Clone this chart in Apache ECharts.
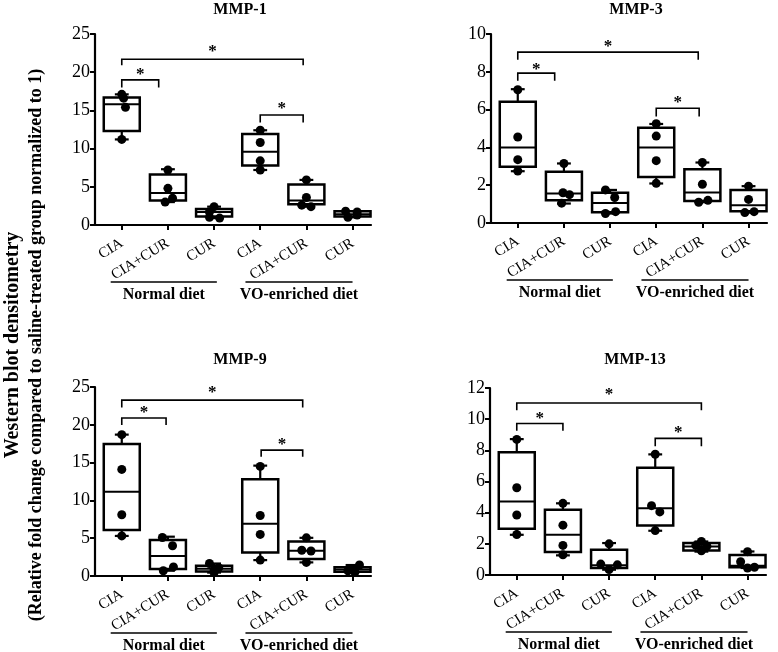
<!DOCTYPE html>
<html>
<head>
<meta charset="utf-8">
<script src="https://cdn.jsdelivr.net/npm/echarts@6/dist/echarts.min.js"></script>
<style>html,body{margin:0;padding:0;background:#fff}#c{width:778px;height:652px}</style>
</head>
<body>
<div id="c"></div>
<script>
// ---------- data ----------
const categories = ['CIA', 'CIA+CUR', 'CUR', 'CIA', 'CIA+CUR', 'CUR'];
const groupLabels = ['Normal diet', 'VO-enriched diet'];
const titles = ['MMP-1', 'MMP-3', 'MMP-9', 'MMP-13'];
const yMax = [25, 10, 25, 12];
const yStep = [5, 2, 5, 2];

// box stats per group: [min, Q1, median, Q3, max]
const mmp1Box = [[11.2,12.3,15.8,16.7,17.1],[3.0,3.2,4.2,6.6,7.3],[0.9,1.1,1.7,2.1,2.4],[7.2,7.8,9.6,11.9,12.4],[2.4,2.7,3.2,5.3,5.9],[1.0,1.1,1.4,1.8,1.8]];
const mmp3Box = [[2.74,2.97,4.0,6.42,7.08],[1.03,1.2,1.56,2.71,3.15],[0.5,0.57,1.06,1.6,1.75],[2.09,2.44,4.0,5.04,5.24],[1.1,1.17,1.61,2.85,3.2],[0.55,0.62,0.94,1.74,1.95]];
const mmp9Box = [[5.3,6.09,11.15,17.45,18.7],[0.7,0.94,2.65,4.77,5.2],[0.45,0.6,0.95,1.35,1.65],[2.1,3.1,6.9,12.8,14.6],[1.8,2.25,3.35,4.55,5.05],[0.5,0.55,0.85,1.15,1.45]];
const mmp13Box = [[2.58,2.96,4.71,7.87,8.72],[1.26,1.47,2.58,4.18,4.6],[0.34,0.45,0.62,1.62,2.05],[2.84,3.18,4.29,6.89,7.74],[1.5,1.58,1.83,2.05,2.15],[0.45,0.49,0.6,1.28,1.51]];

// individual points per group
const mmp1Pts = [[17.1,16.6,15.4,11.2],[7.2,4.8,3.5,3.0],[2.4,1.7,1.0,0.9],[12.4,10.8,8.4,7.2],[5.9,3.6,2.6,2.4],[1.8,1.7,1.3,1.0]];
const mmp3Pts = [[7.05,4.55,3.35,2.75],[3.15,1.6,1.5,1.05],[1.75,1.35,0.6,0.5],[5.25,4.6,3.3,2.1],[3.2,2.05,1.2,1.1],[1.95,1.25,0.6,0.55]];
const mmp9Pts = [[18.7,14.1,8.1,5.3],[5.1,4.0,1.2,0.7],[1.65,1.1,0.8,0.45],[14.5,8.0,5.5,2.1],[5.05,3.4,3.3,1.8],[1.45,1.0,0.7,0.5]];
const mmp13Pts = [[8.7,5.6,3.85,2.6],[4.6,3.2,1.9,1.3],[2.0,0.7,0.65,0.35],[7.75,4.45,4.05,2.85],[2.15,1.9,1.85,1.55],[1.5,0.85,0.5,0.45]];

// significance brackets: [fromGroup, toGroup, barY, legY, starY]
const mmp1Sig = [[0,3.93,21.7,20.9,23.1],[0,0.8,19.0,18.0,20.1],[3.0,3.93,14.4,13.4,15.6]];
const mmp3Sig = [[0,3.91,9.04,8.64,9.5],[0,0.8,7.93,7.52,8.3],[3.0,3.93,6.07,5.63,6.55]];
const mmp9Sig = [[0,3.92,23.26,22.3,24.6],[0,0.96,20.9,19.96,22.0],[3.02,3.92,16.65,15.77,17.75]];
const mmp13Sig = [[0,4.0,11.04,10.58,11.75],[0,1.0,9.72,9.25,10.25],[3.0,4.0,8.77,8.27,9.34]];

// ---------- presentation ----------
const jitter = [
  [[0,0.04,0.08,0],[0,0,0.1,-0.06],[0,-0.1,-0.1,0.12],[0,0,0,0],[0,0,-0.1,0.1],[-0.15,0.1,0.1,-0.1]],
  [[0,0,0,0],[0,-0.02,0.12,-0.05],[-0.1,0.1,0.12,-0.1],[0,0,0,0],[0,0,0.12,-0.08],[0,0,0.12,-0.08]],
  [[0,0,0,0],[-0.12,0.1,0.12,-0.1],[-0.1,0.1,0,0],[0,0,0,0],[0,-0.1,0.1,0],[0.15,0,-0.1,0.05]],
  [[0,0,0,0],[0,0,0,0],[0,-0.18,0.18,0],[0,-0.08,0.1,0],[0,-0.12,0.12,0],[0,-0.15,0.15,0]]
];
const boxes = [mmp1Box, mmp3Box, mmp9Box, mmp13Box];
const points = [mmp1Pts, mmp3Pts, mmp9Pts, mmp13Pts];
const sigs = [mmp1Sig, mmp3Sig, mmp9Sig, mmp13Sig];
const grids = [
  {left: 95, top: 34, width: 276, height: 191},
  {left: 491, top: 34, width: 276, height: 189},
  {left: 95, top: 387, width: 276, height: 189},
  {left: 490, top: 388, width: 276, height: 187}
];
const FONT = '"Liberation Serif", "Times New Roman", serif';
const BW = 0.78, CAP = 0.3;

const chart = echarts.init(document.getElementById('c'), null, {renderer: 'canvas'});

const xAxes = [], yAxes = [], series = [];
for (let i = 0; i < 4; i++) {
  xAxes.push({
    gridIndex: i, type: 'value', min: -0.58, max: 5.4,
    splitLine: {show: false},
    axisLine: {show: true, onZero: false, lineStyle: {color: '#000', width: 2.2}},
    axisTick: {show: true, length: 5, lineStyle: {color: '#000', width: 2}, customValues: [0,1,2,3,4,5]},
    axisLabel: {show: true, customValues: [0,1,2,3,4,5], formatter: v => categories[Math.round(v)],
      rotate: 32, margin: 17, color: '#000', fontFamily: FONT, fontSize: 15}
  });
  yAxes.push({
    gridIndex: i, type: 'value', min: 0, max: yMax[i], interval: yStep[i],
    splitLine: {show: false},
    axisLine: {show: true, onZero: false, lineStyle: {color: '#000', width: 2.2}},
    axisTick: {show: true, length: 5, lineStyle: {color: '#000', width: 2}},
    axisLabel: {color: '#000', fontFamily: FONT, fontSize: 18, margin: 5}
  });
  // box plots
  series.push({
    type: 'custom', xAxisIndex: i, yAxisIndex: i, z: 2,
    data: boxes[i].map((b, k) => [k].concat(b)),
    renderItem: function (params, api) {
      const x = api.value(0);
      const mn = api.value(1), q1 = api.value(2), md = api.value(3), q3 = api.value(4), mx = api.value(5);
      const tl = api.coord([x - BW / 2, q3]), br = api.coord([x + BW / 2, q1]);
      const c = api.coord([x, md]);
      const top = api.coord([x, mx]), bot = api.coord([x, mn]);
      const cl = api.coord([x - CAP / 2, mx])[0], cr = api.coord([x + CAP / 2, mx])[0];
      const st = {stroke: '#000', lineWidth: 2.2, fill: null};
      return {type: 'group', children: [
        {type: 'line', shape: {x1: top[0], y1: top[1], x2: top[0], y2: tl[1]}, style: st},
        {type: 'line', shape: {x1: bot[0], y1: bot[1], x2: bot[0], y2: br[1]}, style: st},
        {type: 'line', shape: {x1: cl, y1: top[1], x2: cr, y2: top[1]}, style: st},
        {type: 'line', shape: {x1: cl, y1: bot[1], x2: cr, y2: bot[1]}, style: st},
        {type: 'rect', shape: {x: tl[0], y: tl[1], width: br[0] - tl[0], height: br[1] - tl[1]},
          style: {stroke: '#000', lineWidth: 2.5, fill: '#fff'}},
        {type: 'line', shape: {x1: tl[0], y1: c[1], x2: br[0], y2: c[1]}, style: {stroke: '#000', lineWidth: 2}}
      ]};
    }
  });
  // points
  const pd = [];
  points[i].forEach((arr, k) => arr.forEach((v, j) => pd.push([k + jitter[i][k][j], v])));
  series.push({
    type: 'scatter', xAxisIndex: i, yAxisIndex: i, z: 5, symbol: 'circle', symbolSize: 9,
    itemStyle: {color: '#000', opacity: 1}, data: pd, silent: true
  });
  // significance brackets
  series.push({
    type: 'custom', xAxisIndex: i, yAxisIndex: i, z: 3,
    data: sigs[i],
    renderItem: function (params, api) {
      const x0 = api.value(0), x1 = api.value(1), yb = api.value(2), yl = api.value(3), ys = api.value(4);
      const a = api.coord([x0, yl]), b = api.coord([x0, yb]), c = api.coord([x1, yb]), d = api.coord([x1, yl]);
      const s = api.coord([(x0 + x1) / 2, ys]);
      return {type: 'group', children: [
        {type: 'polyline', shape: {points: [a, b, c, d]}, style: {stroke: '#000', lineWidth: 1.6, fill: null}},
        {type: 'text', x: s[0], y: s[1] + 3, style: {text: '*', fill: '#000', font: 'bold 17px ' + FONT,
          textAlign: 'center', textVerticalAlign: 'middle'}}
      ]};
    }
  });
}

chart.setOption({
  animation: false,
  textStyle: {fontFamily: FONT},
  grid: grids,
  xAxis: xAxes,
  yAxis: yAxes,
  series: series
});

// titles, group labels and axis title
const graphics = [];
const titleY = [10, 10, 360, 360];
for (let i = 0; i < 4; i++) {
  const g = grids[i];
  graphics.push({type: 'text', x: g.left + 145, y: titleY[i],
    style: {text: titles[i], font: 'bold 16px ' + FONT, fill: '#000', textAlign: 'center', textVerticalAlign: 'middle'}});
  const zeroY = chart.convertToPixel({gridIndex: i}, [0, 0])[1];
  const spans = [[-0.24, 2.06], [2.68, 5.0]];
  spans.forEach((sp, k) => {
    const p0 = chart.convertToPixel({gridIndex: i}, [sp[0], 0]);
    const p1 = chart.convertToPixel({gridIndex: i}, [sp[1], 0]);
    graphics.push({type: 'line', shape: {x1: p0[0], y1: zeroY + 57, x2: p1[0], y2: zeroY + 57},
      style: {stroke: '#000', lineWidth: 1.5}});
    graphics.push({type: 'text', x: (p0[0] + p1[0]) / 2, y: zeroY + 70,
      style: {text: groupLabels[k], font: 'bold 16px ' + FONT, fill: '#000', textAlign: 'center', textVerticalAlign: 'middle'}});
  });
}
graphics.push({type: 'text', x: 13, y: 345, rotation: Math.PI / 2,
  style: {text: 'Western blot densitometry', font: 'bold 20px ' + FONT, fill: '#000', textAlign: 'center', textVerticalAlign: 'middle'}});
graphics.push({type: 'text', x: 36, y: 345, rotation: Math.PI / 2,
  style: {text: '(Relative fold change compared to saline-treated group normalized to 1)', font: 'bold 18px ' + FONT, fill: '#000', textAlign: 'center', textVerticalAlign: 'middle'}});
chart.setOption({graphic: graphics});
</script>
</body>
</html>
